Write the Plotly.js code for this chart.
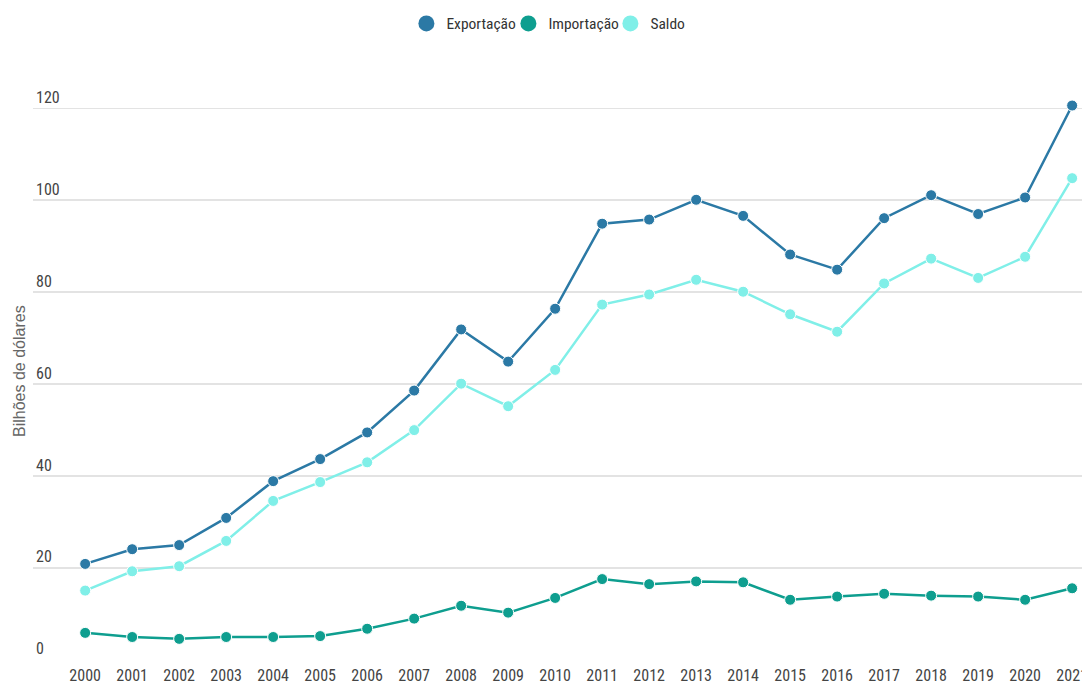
<!DOCTYPE html>
<html>
<head>
<meta charset="utf-8">
<script src="https://cdn.plot.ly/plotly-3.0.1.min.js"></script>
<style>
html,body{margin:0;padding:0;background:#fff;}
#chart{width:1082px;height:684px;}
</style>
</head>
<body>
<div id="chart"></div>
<script>
var years = [2000,2001,2002,2003,2004,2005,2006,2007,2008,2009,2010,2011,2012,2013,2014,2015,2016,2017,2018,2019,2020,2021];
var yearLabels = years.map(String);
var exportacao = [20.9,24.1,25.0,30.9,38.9,43.7,49.5,58.6,71.9,64.9,76.4,94.9,95.8,100.1,96.6,88.2,84.9,96.1,101.1,97.0,100.6,120.6];
var importacao = [5.9,5.0,4.6,5.0,5.0,5.2,6.8,9.0,11.8,10.3,13.5,17.6,16.5,17.1,16.9,13.1,13.8,14.4,14.0,13.8,13.1,15.6];
var saldo = [15.1,19.3,20.4,25.9,34.6,38.7,43.0,50.0,60.1,55.2,63.1,77.3,79.5,82.7,80.1,75.2,71.4,81.9,87.3,83.1,87.7,104.8];
var seriesNames = ['Exportação','Importação','Saldo'];
var seriesColors = ['#2b79a5','#0e9e8f','#80efe8'];
var seriesValues = [exportacao, importacao, saldo];
var yTicks = [0,20,40,60,80,100,120];
var yTitle = 'Bilhões de dólares';

var condFont = '"Roboto Condensed", "DejaVu Sans Condensed", "Liberation Sans Narrow", Roboto, sans-serif';

var traces = [];
for (var i = seriesValues.length - 1; i >= 0; i--) {
  traces.push({
    type: 'scatter', mode: 'lines+markers',
    x: years, y: seriesValues[i], name: seriesNames[i],
    showlegend: false,
    line: {color: seriesColors[i], width: 2.5},
    marker: {color: seriesColors[i], size: 11, line: {color: '#ffffff', width: 1}},
    cliponaxis: false
  });
}
for (var j = 0; j < seriesNames.length; j++) {
  traces.push({
    type: 'scatter', mode: 'markers',
    x: [null], y: [null], name: seriesNames[j],
    marker: {color: seriesColors[j], size: 16},
    showlegend: true
  });
}

var layout = {
  width: 1082, height: 684,
  margin: {l: 33, r: 0, t: 83, b: 24, pad: 0},
  paper_bgcolor: '#ffffff', plot_bgcolor: '#ffffff',
  showlegend: true,
  legend: {
    orientation: 'h', xref: 'container', yref: 'container',
    x: 0.517, xanchor: 'center', y: 0.99, yanchor: 'top',
    entrywidth: 57, entrywidthmode: 'pixels',
    font: {family: condFont, size: 15.5, color: '#333333'},
    itemclick: false, traceorder: 'normal'
  },
  xaxis: {
    range: [1998.89, 2021.21],
    tickmode: 'array', tickvals: years, ticktext: yearLabels,
    showgrid: false, zeroline: false, showline: false,
    ticks: '', ticklabelstandoff: 4, ticklabeloverflow: 'allow',
    tickfont: {family: condFont, size: 16, color: '#444444'},
    fixedrange: true
  },
  yaxis: {
    range: [0, 125.5],
    tickmode: 'array', tickvals: yTicks, ticktext: yTicks.map(String),
    showgrid: true, gridcolor: '#e3e3e3', gridwidth: 1.5,
    zeroline: false, showline: false, ticks: '',
    ticklabelposition: 'inside top',
    tickfont: {family: condFont, size: 16, color: '#444444'},
    automargin: false,
    fixedrange: true
  },
  annotations: [{
    text: yTitle, textangle: -90,
    xref: 'paper', yref: 'paper',
    x: -13.5 / 1049, y: 0.5, xanchor: 'center', yanchor: 'middle',
    showarrow: false,
    font: {family: '"Liberation Sans", Arial, sans-serif', size: 16, color: '#666666'}
  }]
};

Plotly.newPlot('chart', traces, layout, {displayModeBar: false, staticPlot: true});
</script>
</body>
</html>
